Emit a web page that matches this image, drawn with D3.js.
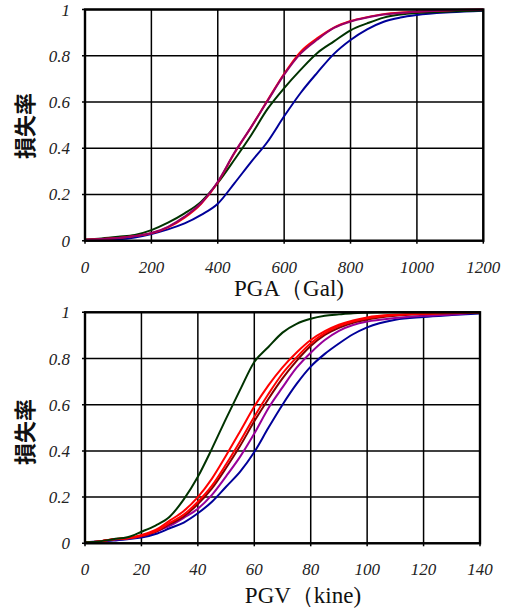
<!DOCTYPE html>
<html>
<head>
<meta charset="utf-8">
<script src="https://cdn.jsdelivr.net/npm/d3@7"></script>
</head>
<body style="margin:0">
<svg id="chart" width="506" height="609"></svg>
<script>
// ---------- Data (top panel: PGA) ----------
const pgaX      = [0, 50, 100, 150, 200, 250, 300, 350, 400, 450, 500, 550, 600, 650, 700, 750, 800, 850, 900, 950, 1000, 1100, 1200];
const pgaBlue   = [0.003, 0.004, 0.006, 0.014, 0.029, 0.049, 0.075, 0.112, 0.160, 0.248, 0.340, 0.428, 0.538, 0.640, 0.727, 0.808, 0.868, 0.914, 0.947, 0.965, 0.976, 0.988, 0.995];
const pgaGreen  = [0.005, 0.010, 0.017, 0.025, 0.046, 0.078, 0.118, 0.169, 0.250, 0.350, 0.455, 0.570, 0.660, 0.740, 0.812, 0.862, 0.910, 0.940, 0.965, 0.978, 0.985, 0.991, 0.996];
const pgaRed    = [0.004, 0.007, 0.012, 0.020, 0.032, 0.058, 0.100, 0.160, 0.252, 0.378, 0.490, 0.607, 0.722, 0.818, 0.876, 0.922, 0.950, 0.967, 0.980, 0.987, 0.991, 0.997, 1.000];
const pgaPurple = [0.004, 0.007, 0.012, 0.020, 0.033, 0.060, 0.104, 0.163, 0.255, 0.380, 0.490, 0.605, 0.718, 0.810, 0.870, 0.920, 0.948, 0.965, 0.978, 0.985, 0.990, 0.997, 1.000];

// ---------- Data (bottom panel: PGV) ----------
const pgvX      = [0, 5, 10, 15, 20, 25, 30, 35, 40, 45, 50, 55, 60, 65, 70, 75, 80, 85, 90, 95, 100, 110, 120, 130, 140];
const pgvGreen  = [0.005, 0.008, 0.018, 0.026, 0.050, 0.077, 0.115, 0.190, 0.288, 0.410, 0.540, 0.665, 0.785, 0.850, 0.912, 0.950, 0.972, 0.985, 0.991, 0.996, 0.998, 1.000, 1.000, 1.000, 1.000];
const pgvRed1   = [0.005, 0.008, 0.018, 0.022, 0.036, 0.058, 0.098, 0.140, 0.200, 0.280, 0.380, 0.485, 0.592, 0.684, 0.762, 0.826, 0.880, 0.918, 0.946, 0.965, 0.978, 0.990, 0.995, 0.998, 1.000];
const pgvRed2   = [0.005, 0.008, 0.018, 0.022, 0.033, 0.052, 0.088, 0.124, 0.180, 0.250, 0.342, 0.442, 0.548, 0.646, 0.735, 0.805, 0.866, 0.910, 0.940, 0.960, 0.974, 0.988, 0.994, 0.997, 1.000];
const pgvMaroon = [0.005, 0.008, 0.018, 0.022, 0.032, 0.050, 0.083, 0.116, 0.170, 0.238, 0.326, 0.422, 0.528, 0.625, 0.714, 0.790, 0.854, 0.902, 0.933, 0.955, 0.969, 0.985, 0.992, 0.996, 0.999];
const pgvPurple = [0.005, 0.008, 0.015, 0.020, 0.030, 0.050, 0.075, 0.110, 0.150, 0.210, 0.290, 0.375, 0.475, 0.585, 0.675, 0.760, 0.825, 0.880, 0.920, 0.945, 0.960, 0.975, 0.985, 0.990, 1.000];
const pgvBlue   = [0.005, 0.008, 0.012, 0.018, 0.025, 0.040, 0.065, 0.090, 0.130, 0.180, 0.245, 0.310, 0.395, 0.500, 0.600, 0.690, 0.765, 0.820, 0.865, 0.905, 0.935, 0.968, 0.980, 0.988, 0.995];

// ---------- Tick labels ----------
const yTicks   = [0, 0.2, 0.4, 0.6, 0.8, 1];
const pgaTicks = [0, 200, 400, 600, 800, 1000, 1200];
const pgvTicks = [0, 20, 40, 60, 80, 100, 120, 140];
const yTitle   = "損失率";
const pgaTitle = "PGA（Gal)";
const pgvTitle = "PGV（kine)";

const colors = {
  blue: "#000099", green: "#003300", red: "#ff0000",
  purpleTop: "#990066", purple: "#990099", maroon: "#800000"
};

const svg = d3.select("#chart").style("font-family", "'Liberation Serif'");

function addText(sel) {
  return sel.append("text").style("font-family", "'Liberation Serif'");
}

function panel(cfg) {
  const x = d3.scaleLinear().domain(cfg.xDomain).range([cfg.left, cfg.right]);
  const y = d3.scaleLinear().domain([0, 1]).range([cfg.bottom, cfg.top]);
  const g = svg.append("g");

  // grid
  cfg.xTicks.forEach(d => {
    g.append("line")
      .attr("x1", x(d)).attr("x2", x(d))
      .attr("y1", cfg.top).attr("y2", cfg.bottom + 3)
      .attr("stroke", "#000").attr("stroke-width", 1.5);
  });
  yTicks.forEach(d => {
    g.append("line")
      .attr("x1", cfg.left - 3).attr("x2", cfg.right)
      .attr("y1", y(d)).attr("y2", y(d))
      .attr("stroke", "#000").attr("stroke-width", 1.5);
  });

  // series
  const line = d3.line()
    .x((d, i) => x(cfg.xs[i]))
    .y(d => y(d))
    .curve(d3.curveMonotoneX);
  cfg.series.forEach(s => {
    g.append("path")
      .attr("d", line(s.values))
      .attr("fill", "none")
      .attr("stroke", s.color)
      .attr("stroke-width", 2)
      .attr("stroke-linejoin", "round");
  });

  // frame
  g.append("rect")
    .attr("x", cfg.left).attr("y", cfg.top)
    .attr("width", cfg.right - cfg.left).attr("height", cfg.bottom - cfg.top)
    .attr("fill", "none").attr("stroke", "#000").attr("stroke-width", 2.4);

  // y tick labels
  yTicks.forEach(d => {
    addText(g)
      .attr("x", cfg.left - 15).attr("y", y(d) + 6)
      .attr("text-anchor", "end")
      .attr("font-style", "italic")
      .attr("font-size", 17)
      .attr("fill", "#222")
      .text(d3.format("~g")(d));
  });

  // x tick labels
  cfg.xTicks.forEach(d => {
    addText(g)
      .attr("x", x(d)).attr("y", cfg.xLabelY)
      .attr("text-anchor", "middle")
      .attr("font-style", "italic")
      .attr("font-size", 17)
      .attr("fill", "#222")
      .text(String(d));
  });

  // x title
  addText(g)
    .attr("x", cfg.titleX).attr("y", cfg.titleY)
    .attr("text-anchor", "middle")
    .attr("font-size", 23)
    .attr("fill", "#111")
    .text(cfg.title);

  // y title
  g.append("text")
    .attr("transform", `translate(${cfg.yTitleX + 8},${cfg.yTitleY}) rotate(-90)`)
    .attr("text-anchor", "middle")
    .style("font-family", "'Noto Sans CJK JP'")
    .attr("font-weight", "bold")
    .attr("font-size", 22)
    .attr("fill", "#111")
    .text(yTitle);
}

panel({
  xDomain: [0, 1200], xTicks: pgaTicks, xs: pgaX,
  left: 85, right: 483.3, top: 9.5, bottom: 240.7,
  xLabelY: 273, title: pgaTitle, titleX: 289, titleY: 296,
  yTitleX: 25, yTitleY: 126,
  series: [
    { values: pgaBlue, color: colors.blue },
    { values: pgaGreen, color: colors.green },
    { values: pgaRed, color: colors.red },
    { values: pgaPurple, color: colors.purpleTop }
  ]
});

panel({
  xDomain: [0, 140], xTicks: pgvTicks, xs: pgvX,
  left: 85, right: 480, top: 312.3, bottom: 543.3,
  xLabelY: 575, title: pgvTitle, titleX: 303, titleY: 603,
  yTitleX: 25, yTitleY: 432,
  series: [
    { values: pgvBlue, color: colors.blue },
    { values: pgvPurple, color: colors.purple },
    { values: pgvMaroon, color: colors.maroon },
    { values: pgvRed2, color: colors.red },
    { values: pgvRed1, color: colors.red },
    { values: pgvGreen, color: colors.green }
  ]
});
</script>
</body>
</html>
